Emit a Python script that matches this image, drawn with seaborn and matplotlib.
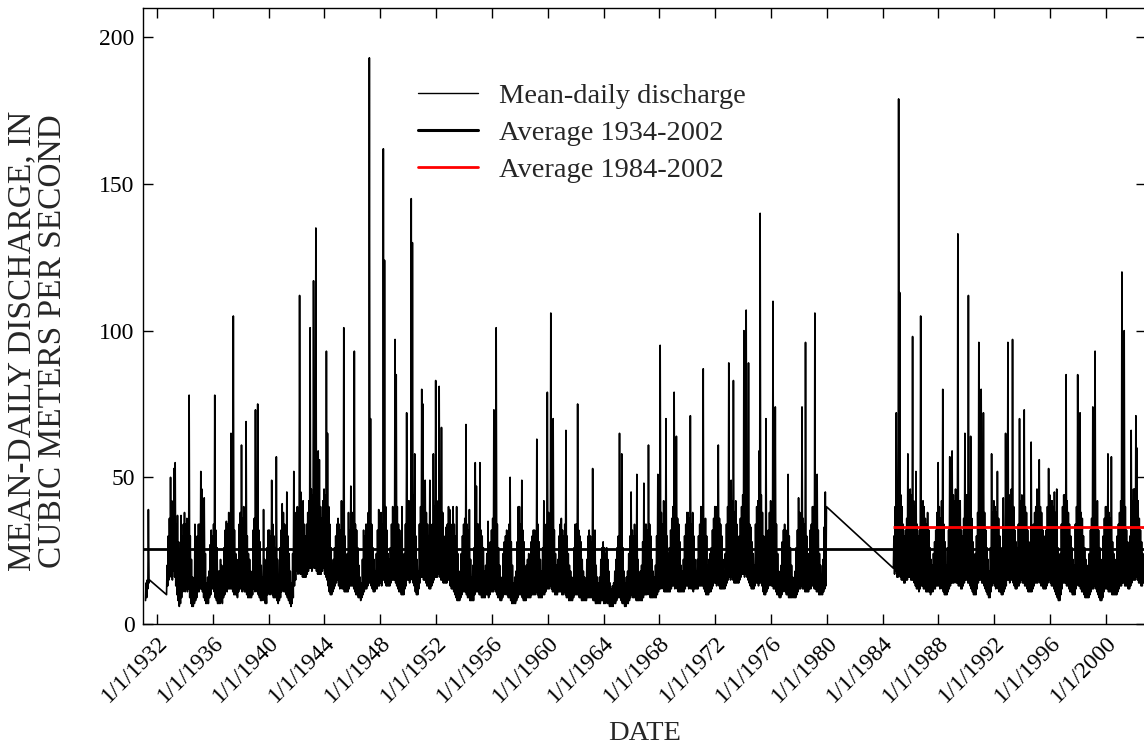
import numpy as np
import pandas as pd
import matplotlib
matplotlib.use("Agg")
import matplotlib.pyplot as plt
import seaborn as sns
from matplotlib.lines import Line2D

N = None
# ---- monthly max (hi) and min (lo) of mean-daily discharge, m3/s ----
hi_1930s = [
    [N, N, 14, 15, 39, 15, N, N, N, N, N, N],                 # 1931
    [N, N, N, N, N, N, N, N, 20, 30, 36, 50],                 # 1932
    [42, 38, 53, 55, 34, 37, 28, 20, 37, 30, 34, 38],         # 1933
    [34, 36, 32, 78, 30, 22, 16, 12, 34, 26, 30, 34],         # 1934
    [34, 52, 46, 36, 43, 24, 14, 16, 18, 27, 32, 30],         # 1935
    [34, 78, 32, 26, 18, 18, 22, 20, 18, 26, 32, 35],         # 1936
    [34, 38, 36, 65, 40, 105, 32, 24, 22, 18, 34, 38],        # 1937
    [61, 36, 40, 34, 69, 30, 24, 22, 18, 16, 32, 36],         # 1938
    [73, 34, 75, 32, 28, 20, 16, 39, 22, 14, 26, 32],         # 1939
]
lo_1930s = [
    [N, N, 8, 9, 12, 14, N, N, N, N, N, N],
    [N, N, N, N, N, N, N, N, 10, 13, 15, 18],
    [16, 15, 18, 16, 13, 10, 8, 6, 7, 9, 11, 13],
    [11, 12, 11, 12, 9, 7, 6, 6, 7, 8, 9, 11],
    [11, 12, 12, 11, 9, 8, 7, 7, 7, 9, 10, 12],
    [12, 11, 9, 8, 7, 7, 7, 8, 7, 9, 10, 12],
    [11, 12, 12, 12, 12, 11, 10, 10, 10, 9, 11, 12],
    [12, 11, 12, 11, 11, 10, 9, 9, 9, 9, 10, 12],
    [11, 12, 11, 10, 9, 8, 8, 9, 8, 7, 7, 10],
]
hi_1940s = [
    [32, 30, 49, 34, 30, 26, 57, 22, 16, 26, 32, 41],         # 1940
    [38, 34, 32, 45, 30, 24, 18, 14, 24, 52, 34, 38],         # 1941
    [40, 38, 112, 45, 38, 42, 34, 30, 34, 38, 42, 101],       # 1942
    [46, 44, 117, 50, 135, 46, 59, 56, 40, 36, 42, 46],       # 1943
    [44, 93, 65, 40, 34, 26, 20, 22, 26, 30, 34, 36],         # 1944
    [34, 32, 42, 36, 101, 30, 20, 24, 38, 32, 47, 38],        # 1945
    [38, 93, 34, 32, 26, 20, 16, 14, 22, 32, 30, 34],         # 1946
    [34, 38, 193, 70, 34, 26, 22, 18, 24, 32, 39, 36],        # 1947
    [38, 34, 162, 124, 40, 32, 24, 22, 26, 34, 40, 38],       # 1948
    [97, 85, 40, 34, 32, 26, 40, 18, 24, 34, 72, 42],         # 1949
]
lo_1940s = [
    [11, 10, 11, 10, 9, 9, 9, 8, 7, 8, 9, 11],
    [12, 11, 11, 10, 9, 8, 7, 6, 7, 9, 13, 15],
    [18, 17, 18, 17, 17, 16, 16, 16, 16, 17, 18, 19],
    [19, 18, 20, 19, 19, 18, 17, 17, 17, 17, 18, 19],
    [17, 16, 15, 13, 11, 10, 10, 11, 12, 13, 14, 15],
    [13, 12, 13, 12, 12, 11, 11, 11, 11, 12, 13, 13],
    [13, 12, 11, 10, 10, 9, 9, 8, 9, 10, 11, 12],
    [12, 13, 14, 14, 13, 12, 11, 11, 12, 12, 13, 13],
    [14, 13, 15, 15, 14, 13, 13, 13, 13, 14, 15, 15],
    [15, 14, 13, 12, 11, 11, 10, 10, 10, 12, 13, 15],
]
hi_1950s = [
    [42, 38, 145, 130, 44, 58, 30, 22, 18, 34, 40, 80],       # 1950
    [75, 40, 49, 38, 34, 30, 49, 28, 34, 58, 40, 83],         # 1951
    [42, 40, 81, 44, 67, 38, 30, 26, 33, 34, 40, 39],         # 1952
    [34, 32, 40, 34, 30, 40, 24, 18, 14, 24, 30, 34],         # 1953
    [36, 68, 34, 32, 39, 22, 16, 20, 26, 55, 47, 34],         # 1954
    [34, 55, 32, 30, 26, 18, 20, 24, 35, 24, 28, 32],         # 1955
    [36, 73, 38, 101, 34, 26, 20, 16, 14, 24, 28, 30],        # 1956
    [32, 30, 34, 50, 28, 20, 14, 16, 18, 28, 40, 40],         # 1957
    [34, 49, 32, 28, 18, 20, 22, 24, 22, 28, 30, 32],         # 1958
    [32, 30, 63, 34, 28, 22, 18, 26, 42, 30, 34, 79],         # 1959
]
lo_1950s = [
    [15, 14, 15, 16, 14, 13, 11, 10, 10, 12, 14, 16],
    [16, 15, 15, 14, 13, 13, 12, 12, 13, 14, 15, 16],
    [16, 16, 17, 16, 15, 15, 14, 14, 14, 14, 15, 15],
    [13, 12, 12, 11, 10, 9, 8, 8, 8, 9, 10, 11],
    [11, 11, 10, 9, 9, 8, 8, 8, 8, 10, 11, 11],
    [11, 10, 10, 9, 9, 9, 9, 10, 10, 9, 10, 11],
    [11, 11, 12, 11, 10, 9, 9, 8, 8, 9, 10, 11],
    [10, 10, 9, 9, 8, 7, 7, 7, 7, 8, 9, 10],
    [10, 10, 9, 8, 8, 8, 9, 9, 9, 9, 10, 10],
    [10, 10, 11, 10, 9, 9, 9, 9, 10, 10, 11, 12],
]
hi_1960s = [
    [38, 36, 106, 40, 70, 32, 24, 20, 22, 30, 34, 36],        # 1960
    [32, 30, 34, 66, 30, 24, 20, 18, 16, 14, 26, 34],         # 1961
    [34, 75, 32, 30, 28, 22, 18, 16, 14, 22, 30, 32],         # 1962
    [30, 28, 53, 30, 32, 20, 16, 14, 16, 22, 26, 28],         # 1963
    [26, 24, 26, 22, 18, 14, 12, 13, 14, 18, 22, 26],         # 1964
    [30, 65, 34, 58, 26, 18, 14, 16, 18, 24, 30, 45],         # 1965
    [32, 30, 34, 30, 51, 22, 16, 18, 20, 28, 48, 34],         # 1966
    [34, 32, 61, 34, 30, 22, 18, 16, 20, 30, 51, 36],         # 1967
    [95, 38, 34, 42, 34, 70, 30, 24, 26, 32, 36, 40],         # 1968
    [79, 38, 64, 36, 34, 28, 20, 18, 22, 30, 34, 38],         # 1969
]
lo_1960s = [
    [12, 12, 13, 12, 11, 11, 10, 10, 10, 11, 11, 11],
    [10, 10, 11, 10, 9, 9, 8, 8, 8, 8, 9, 10],
    [10, 10, 10, 9, 9, 8, 8, 8, 8, 8, 9, 9],
    [9, 9, 9, 8, 8, 7, 7, 7, 7, 7, 8, 8],
    [7, 7, 8, 7, 7, 6, 6, 6, 6, 7, 7, 8],
    [9, 9, 9, 8, 7, 7, 6, 6, 7, 7, 8, 9],
    [10, 9, 9, 9, 8, 8, 8, 8, 8, 8, 9, 10],
    [10, 10, 11, 10, 9, 9, 9, 9, 9, 9, 10, 11],
    [12, 12, 13, 12, 11, 11, 11, 11, 11, 11, 12, 13],
    [13, 12, 13, 12, 11, 11, 11, 11, 11, 11, 12, 13],
]
hi_1970s = [
    [38, 36, 71, 34, 38, 30, 22, 18, 22, 30, 34, 40],         # 1970
    [40, 87, 34, 36, 30, 20, 22, 24, 26, 32, 36, 40],         # 1971
    [40, 38, 61, 36, 34, 30, 22, 18, 24, 34, 40, 89],         # 1972
    [44, 49, 42, 83, 38, 42, 34, 28, 30, 36, 40, 44],         # 1973
    [100, 44, 107, 40, 89, 34, 33, 28, 24, 20, 34, 40],       # 1974
    [42, 59, 140, 44, 38, 30, 20, 70, 26, 32, 38, 42],        # 1975
    [40, 110, 38, 74, 34, 24, 18, 16, 20, 28, 32, 34],        # 1976
    [32, 30, 51, 30, 26, 20, 16, 14, 18, 26, 32, 43],         # 1977
    [38, 34, 74, 36, 34, 96, 30, 22, 24, 32, 34, 40],         # 1978
    [40, 106, 36, 51, 32, 24, 20, 16, 22, 33, 45, 40],        # 1979
]
lo_1970s = [
    [13, 12, 13, 12, 12, 11, 12, 12, 12, 12, 13, 13],
    [13, 13, 12, 11, 10, 10, 10, 11, 11, 12, 13, 14],
    [14, 13, 14, 13, 12, 12, 12, 12, 12, 13, 14, 15],
    [16, 15, 16, 15, 14, 14, 14, 14, 14, 15, 16, 17],
    [17, 16, 17, 16, 15, 14, 13, 12, 12, 12, 13, 14],
    [14, 13, 14, 14, 13, 11, 10, 10, 11, 12, 13, 14],
    [13, 13, 12, 12, 11, 10, 10, 9, 9, 10, 11, 12],
    [11, 10, 10, 9, 9, 9, 9, 9, 9, 9, 10, 11],
    [12, 12, 13, 12, 12, 11, 11, 11, 11, 12, 12, 13],
    [13, 12, 12, 11, 11, 10, 10, 10, 10, 11, 12, 13],
]
hi_1980s = [
    [N, N, N, N, N, N, N, N, N, 30, 40, 72],                  # 1984
    [46, 179, 113, 44, 40, 34, 30, 32, 36, 58, 42, 46],       # 1985
    [44, 98, 42, 40, 52, 34, 30, 32, 105, 36, 42, 40],        # 1986
    [36, 34, 38, 32, 26, 22, 20, 24, 28, 32, 38, 55],         # 1987
    [40, 36, 42, 80, 34, 28, 20, 26, 32, 57, 40, 59],         # 1988
    [44, 42, 46, 40, 133, 42, 42, 32, 30, 36, 65, 44],        # 1989
]
lo_1980s = [
    [N, N, N, N, N, N, N, N, N, 19, 17, 18],
    [16, 16, 17, 16, 15, 15, 14, 14, 15, 15, 16, 16],
    [15, 15, 15, 14, 13, 12, 12, 11, 12, 13, 13, 12],
    [12, 11, 11, 11, 11, 10, 11, 11, 12, 12, 13, 13],
    [13, 12, 13, 12, 11, 10, 10, 10, 11, 12, 13, 14],
    [14, 14, 15, 14, 14, 13, 13, 12, 12, 13, 14, 15],
]
hi_1990s = [
    [44, 112, 42, 64, 36, 28, 20, 24, 30, 38, 96, 46],        # 1990
    [80, 42, 72, 38, 32, 26, 22, 18, 26, 58, 38, 42],         # 1991
    [40, 38, 52, 36, 30, 26, 24, 43, 32, 65, 42, 96],         # 1992
    [44, 42, 46, 97, 40, 32, 28, 26, 34, 70, 42, 44],         # 1993
    [42, 73, 40, 38, 32, 28, 26, 62, 30, 34, 38, 40],         # 1994
    [46, 42, 56, 40, 38, 32, 30, 28, 32, 40, 53, 44],         # 1995
    [42, 42, 40, 45, 38, 46, 26, 20, 24, 34, 40, 44],         # 1996
    [44, 85, 42, 38, 34, 30, 26, 22, 20, 34, 40, 85],         # 1997
    [42, 72, 38, 36, 30, 26, 22, 20, 18, 24, 32, 36],         # 1998
    [74, 40, 93, 40, 42, 32, 26, 20, 22, 30, 36, 40],         # 1999
]
lo_1990s = [
    [15, 14, 14, 13, 12, 11, 10, 10, 10, 12, 14, 15],
    [15, 14, 14, 13, 12, 11, 10, 9, 9, 11, 13, 14],
    [13, 12, 13, 12, 11, 11, 10, 10, 11, 12, 13, 15],
    [15, 14, 15, 15, 14, 13, 12, 12, 13, 13, 14, 15],
    [14, 14, 13, 13, 12, 11, 11, 11, 11, 12, 13, 14],
    [14, 14, 15, 14, 13, 13, 12, 12, 12, 13, 14, 15],
    [14, 13, 13, 12, 11, 10, 9, 8, 8, 10, 12, 14],
    [14, 14, 13, 13, 12, 11, 11, 10, 10, 10, 12, 14],
    [13, 13, 12, 11, 11, 10, 9, 9, 9, 9, 10, 11],
    [12, 12, 13, 12, 11, 10, 9, 8, 8, 9, 11, 12],
]
hi_2000s = [
    [40, 58, 38, 36, 57, 28, 24, 20, 22, 30, 34, 38],         # 2000
    [42, 120, 44, 100, 40, 32, 28, 26, 30, 66, 42, 46],       # 2001
    [46, 71, 60, 42, 36, 32, 28, 24, 20, N, N, N],            # 2002
]
lo_2000s = [
    [12, 12, 11, 11, 11, 10, 10, 10, 10, 10, 11, 12],
    [13, 13, 14, 14, 13, 13, 13, 12, 12, 13, 14, 15],
    [15, 15, 16, 15, 14, 14, 13, 13, 14, N, N, N],
]

avg_1934_2002 = 25.4
avg_1984_2002 = 33.2
avg_1984_start = "1984-10-01"

tick_years = list(range(1932, 2001, 4))
tick_labels = [f"1/1/{y}" for y in tick_years]
legend_labels = ["Mean-daily discharge", "Average 1934-2002", "Average 1984-2002"]


def decade_rows(start_year, hi_rows, lo_rows):
    rows = []
    for i, (hi, lo) in enumerate(zip(hi_rows, lo_rows)):
        year = start_year + i
        for m, (h, l) in enumerate(zip(hi, lo)):
            if h is None:
                continue
            rows.append((pd.Timestamp(year, m + 1, 8), l))
            rows.append((pd.Timestamp(year, m + 1, 22), h))
    return rows


records = []
records += decade_rows(1931, hi_1930s, lo_1930s)
records += decade_rows(1940, hi_1940s, lo_1940s)
records += decade_rows(1950, hi_1950s, lo_1950s)
records += decade_rows(1960, hi_1960s, lo_1960s)
records += decade_rows(1970, hi_1970s, lo_1970s)
records += decade_rows(1984, hi_1980s, lo_1980s)
records += decade_rows(1990, hi_1990s, lo_1990s)
records += decade_rows(2000, hi_2000s, lo_2000s)
df = pd.DataFrame(records, columns=["date", "discharge"])

sns.set_style("ticks")
plt.rcParams["font.family"] = ["Liberation Serif", "DejaVu Serif"]
plt.rcParams["xtick.direction"] = "in"
plt.rcParams["ytick.direction"] = "in"

fig = plt.figure(figsize=(11.44, 7.48), dpi=100)
ax = fig.add_axes([143 / 1144, 124 / 748, 1003 / 1144, 616 / 748])

sns.lineplot(data=df, x="date", y="discharge", ax=ax, color="black",
             linewidth=1.2, sort=False, estimator=None)
ax.axhline(avg_1934_2002, color="black", linewidth=2.0, zorder=3)
x_end = pd.Timestamp("2002-11-14")
ax.hlines(avg_1984_2002, pd.Timestamp(avg_1984_start), x_end, color="#ff0000",
          linewidth=2.0, zorder=4)

ax.set_xlim(pd.Timestamp("1931-01-01"), x_end)
ax.set_ylim(0, 210)
ax.set_yticks([0, 50, 100, 150, 200])
ax.set_xticks([pd.Timestamp(y, 1, 1) for y in tick_years])
ax.set_xticklabels(tick_labels, rotation=45, ha="right", rotation_mode="anchor")
ax.tick_params(axis="both", which="major", length=7, width=1.0, labelsize=17,
               top=True, right=True, colors="black", pad=6)
for s in ax.spines.values():
    s.set_linewidth(1.0)
    s.set_color("black")

ax.set_xlabel("DATE", fontsize=20.5, labelpad=10)
ax.set_ylabel("MEAN-DAILY DISCHARGE, IN\nCUBIC METERS PER SECOND", fontsize=24,
              linespacing=1.0)
ax.yaxis.set_label_coords(-0.075, 0.459)

handles = [Line2D([], [], color="black", linewidth=1.0),
           Line2D([], [], color="black", linewidth=2.2),
           Line2D([], [], color="#ff0000", linewidth=2.0)]
ax.legend(handles, legend_labels, loc="upper left", bbox_to_anchor=(0.274, 0.878),
          frameon=False, fontsize=20.5, handlelength=2.1, handletextpad=0.75,
          labelspacing=0.38, borderpad=0, borderaxespad=0)

fig.savefig("out.png", dpi=100)
